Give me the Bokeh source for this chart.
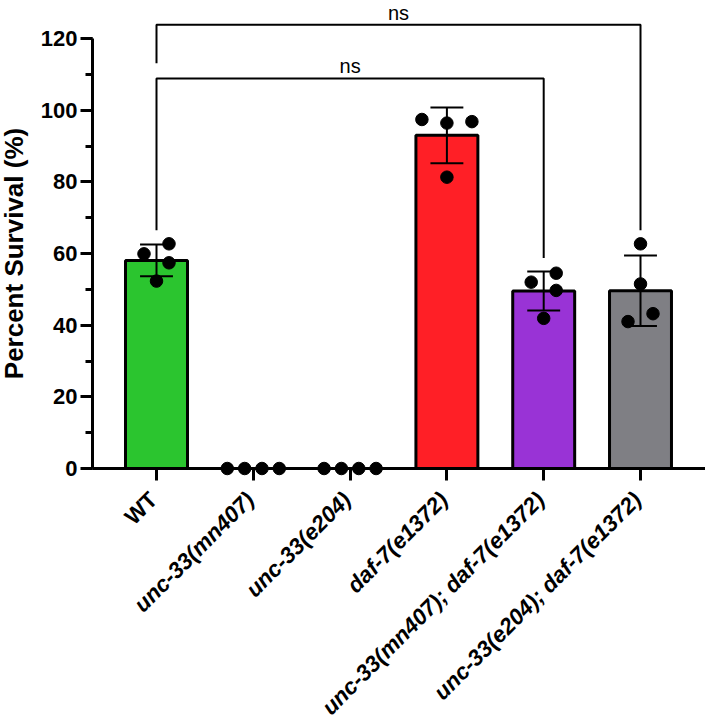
import math
from bokeh.plotting import figure
from bokeh.models import Range1d, FixedTicker, SingleIntervalTicker, ColumnDataSource
from bokeh.core.properties import value
from bokeh.embed import file_html
from bokeh.resources import INLINE

# ---------------- data ----------------
groups = ["WT", "unc-33(mn407)", "unc-33(e204)", "daf-7(e1372)",
          "unc-33(mn407); daf-7(e1372)", "unc-33(e204); daf-7(e1372)"]
label_italic = [False, True, True, True, True, True]
bar_colors = ["#2BC52F", "#FFFFFF", "#FFFFFF", "#FF1F26", "#9933D6", "#7F7F84"]

wt = [59.9, 57.4, 62.7, 52.3]
mn407 = [0.0, 0.0, 0.0, 0.0]
e204 = [0.0, 0.0, 0.0, 0.0]
daf7 = [97.4, 96.4, 96.8, 81.3]
mn407_daf7 = [52.0, 54.5, 49.7, 41.9]
e204_daf7 = [41.0, 62.7, 51.5, 43.2]
replicates = [wt, mn407, e204, daf7, mn407_daf7, e204_daf7]

comparisons = [(0, 4, "ns"), (0, 5, "ns")]
y_ticks_major = 20
y_max_tick = 120
y_title = "Percent Survival (%)"

# ---------------- layout ----------------
W, H = 705, 724
PX_Y = 430 / 120.0
PX_X = 96.8
X0 = -156 / PX_X
X1 = X0 + W / PX_X
Y1 = 468 / PX_Y
Y0 = Y1 - H / PX_Y
X_AXIS_AT = X0 + 92 / PX_X

DOT = 12.5
FONT = value("Liberation Sans")

def mean(v):
    return sum(v) / len(v)

def sd(v):
    m = mean(v)
    return math.sqrt(sum((a - m) ** 2 for a in v) / (len(v) - 1))

def swarm(vals):
    order = sorted(range(len(vals)), key=lambda k: -vals[k])
    clusters, cur = [], [order[0]]
    for k in order[1:]:
        if vals[cur[-1]] - vals[k] < DOT / PX_Y:
            cur.append(k)
        else:
            clusters.append(cur)
            cur = [k]
    clusters.append(cur)
    off = [0.0] * len(vals)
    for c in clusters:
        n = len(c)
        if n == 1:
            continue
        spread = vals[c[0]] - vals[c[-1]]
        if spread < DOT / PX_Y:
            step = min(25.0, 52.0 / (n - 1)) / PX_X
            for j, k in enumerate(sorted(c)):
                off[k] = (j - (n - 1) / 2) * step
        else:
            for j, k in enumerate(c):
                off[k] = (1 if j % 2 == 0 else -1) * 12.5 / PX_X
    return off

means = [mean(v) for v in replicates]
sds = [sd(v) for v in replicates]
xs = list(range(len(groups)))

p = figure(width=W, height=H, output_backend="svg", toolbar_location=None,
           x_range=Range1d(X0, X1), y_range=Range1d(Y0, Y1),
           min_border_left=0, min_border_right=0, min_border_top=0,
           min_border_bottom=0)
p.outline_line_color = None
p.xgrid.visible = False
p.ygrid.visible = False
p.background_fill_color = "white"
p.border_fill_color = "white"

# bars
src = ColumnDataSource(dict(x=xs, top=means, color=bar_colors))
p.vbar(x="x", top="top", bottom=0, width=0.64, fill_color="color",
       line_color="black", line_width=3, source=src)

# error bars (mean ± SD)
ex, ey = [], []
cx0, cx1, cy = [], [], []
for i in xs:
    if sds[i] > 0:
        ex.append([i, i]); ey.append([means[i] - sds[i], means[i] + sds[i]])
        for yy in (means[i] - sds[i], means[i] + sds[i]):
            cx0.append(i - 0.17); cx1.append(i + 0.17); cy.append(yy)
p.multi_line(ex, ey, line_color="black", line_width=2)
p.segment(x0=cx0, y0=cy, x1=cx1, y1=cy, line_color="black", line_width=2)

# individual points
px, py = [], []
for i, vals in enumerate(replicates):
    off = swarm(vals)
    for v, o in zip(vals, off):
        px.append(i + o); py.append(v)
p.scatter(px, py, size=DOT, fill_color="black", line_color="black")

# significance brackets
tops = [max(max(v), means[i] + sds[i]) for i, v in enumerate(replicates)]
bx, by = [], []
levels = []
tx, ty, tt = [], [], []
for n, (a, b, txt) in enumerate(comparisons):
    if n == 0:
        lvl = max(tops[a:b + 1]) + 8.1
    else:
        lvl = levels[-1] + 15
    covered = [g for (aa, bb, _) in comparisons[:n] for g in (aa, bb)]
    leg_a = levels[-1] + 4.2 if a in covered else tops[a] + 3.8
    leg_b = levels[-1] + 4.2 if b in covered else tops[b] + 3.8
    levels.append(lvl)
    bx.append([a, a, b, b]); by.append([leg_a, lvl, lvl, leg_b])
    tx.append((a + b) / 2); ty.append(lvl + 12 / PX_Y); tt.append(txt)
p.multi_line(bx, by, line_color="black", line_width=2)
p.text(x=tx, y=ty, text=tt, text_align="center", text_baseline="alphabetic",
       text_font=FONT, text_font_size="20px", text_color="black")

# axes (drawn at fixed data locations inside the frame)
p.xaxis.fixed_location = 0
p.xaxis.ticker = FixedTicker(ticks=xs)
p.xaxis.major_label_overrides = {i: "" for i in xs}
p.xaxis.axis_line_width = 3
p.xaxis.major_tick_line_width = 3
p.xaxis.major_tick_out = 12
p.xaxis.major_tick_in = 0
p.xaxis.minor_tick_out = 0
p.xaxis.minor_tick_in = 0
p.xaxis.bounds = (X_AXIS_AT, X1)

p.yaxis.fixed_location = X_AXIS_AT
p.yaxis.ticker = SingleIntervalTicker(interval=y_ticks_major, num_minor_ticks=2)
p.yaxis.bounds = (0, y_max_tick)
p.yaxis.axis_line_width = 3
p.yaxis.major_tick_line_width = 3
p.yaxis.minor_tick_line_width = 3
p.yaxis.major_tick_out = 12
p.yaxis.major_tick_in = 0
p.yaxis.minor_tick_out = 7
p.yaxis.minor_tick_in = 0
p.yaxis.major_label_standoff = 3
p.yaxis.major_label_text_font = "Liberation Sans"
p.yaxis.major_label_text_font_style = "bold"
p.yaxis.major_label_text_font_size = "22px"
p.yaxis.major_label_text_color = "black"
for ax in (p.xaxis, p.yaxis):
    ax.axis_line_color = "black"
    ax.major_tick_line_color = "black"
    ax.minor_tick_line_color = "black"

# y axis title
p.text(x=[X0 + 13 / PX_X], y=[y_max_tick / 2], text=[y_title], angle=math.pi / 2,
       text_align="center", text_baseline="middle", text_font=FONT,
       text_font_style="bold", text_font_size="26px", text_color="black")

# x category labels
for style, flag in (("bold", False), ("bold italic", True)):
    sel = [i for i in xs if label_italic[i] == flag]
    p.text(x=[i - 3 / PX_X for i in sel], y=[-27.5 / PX_Y] * len(sel),
           text=[groups[i] for i in sel], angle=math.pi / 4,
           text_align="right", text_baseline="middle", text_font=FONT,
           text_font_style=style, text_font_size="22.5px", text_color="black")

open("out.html", "w").write(file_html(p, INLINE))
